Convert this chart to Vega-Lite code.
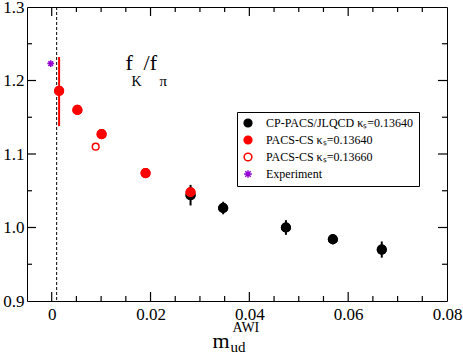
{
  "$schema": "https://vega.github.io/schema/vega-lite/v6.json",
  "width": 420,
  "height": 294,
  "autosize": {"type": "none"},
  "padding": {"left": 27, "top": 7, "right": 16, "bottom": 52},
  "config": {
    "view": {"stroke": "black", "strokeWidth": 1},
    "font": "Liberation Serif",
    "legend": {"labelFont": "Liberation Serif"}
  },
  "datasets": {
    "xmaj": [{"v": 0}, {"v": 0.02}, {"v": 0.04}, {"v": 0.06}],
    "xmin": [{"v": 0.005}, {"v": 0.01}, {"v": 0.015}, {"v": 0.025}, {"v": 0.03}, {"v": 0.035}, {"v": 0.045}, {"v": 0.05}, {"v": 0.055}, {"v": 0.065}, {"v": 0.07}, {"v": 0.075}],
    "ymaj": [{"v": 1.0}, {"v": 1.1}, {"v": 1.2}],
    "ymin": [{"v": 0.95}, {"v": 1.05}, {"v": 1.15}, {"v": 1.25}]
  },
  "data": {
    "values": [
      {"series": "CP-PACS/JLQCD κₛ=0.13640", "x": 0.0281, "y": 1.044, "lo": 1.030, "hi": 1.058},
      {"series": "CP-PACS/JLQCD κₛ=0.13640", "x": 0.0347, "y": 1.0265, "lo": 1.018, "hi": 1.035},
      {"series": "CP-PACS/JLQCD κₛ=0.13640", "x": 0.0474, "y": 1.000, "lo": 0.990, "hi": 1.010},
      {"series": "CP-PACS/JLQCD κₛ=0.13640", "x": 0.0569, "y": 0.984, "lo": 0.977, "hi": 0.991},
      {"series": "CP-PACS/JLQCD κₛ=0.13640", "x": 0.0668, "y": 0.970, "lo": 0.959, "hi": 0.981},
      {"series": "PACS-CS κₛ=0.13640", "x": 0.0015, "y": 1.186, "lo": 1.138, "hi": 1.232},
      {"series": "PACS-CS κₛ=0.13640", "x": 0.0052, "y": 1.160, "lo": 1.157, "hi": 1.163},
      {"series": "PACS-CS κₛ=0.13640", "x": 0.0101, "y": 1.127, "lo": 1.124, "hi": 1.130},
      {"series": "PACS-CS κₛ=0.13640", "x": 0.0190, "y": 1.074, "lo": 1.071, "hi": 1.077},
      {"series": "PACS-CS κₛ=0.13640", "x": 0.0281, "y": 1.048, "lo": 1.044, "hi": 1.052},
      {"series": "PACS-CS κₛ=0.13660", "x": 0.0089, "y": 1.110},
      {"series": "Experiment", "x": -0.0002, "y": 1.223}
    ]
  },
  "layer": [
    {
      "transform": [{"filter": "datum.series == 'CP-PACS/JLQCD κₛ=0.13640' || datum.series == 'PACS-CS κₛ=0.13640'"}],
      "mark": {"type": "point", "opacity": 1, "strokeWidth": 1.5, "size": 75},
      "encoding": {
        "x": {"field": "x", "type": "quantitative", "scale": {"domain": [-0.005, 0.08], "nice": false, "zero": false},
          "axis": {"orient": "bottom", "values": [0, 0.02, 0.04, 0.06, 0.08], "grid": false, "domain": false, "title": null, "ticks": false,
            "labelPadding": 5, "labelFontSize": 17, "labelFont": "Liberation Serif", "labelColor": "black", "labelFlush": false,
            "labelExpr": "datum.value == 0 ? '0' : format(datum.value, '.2f')"}},
        "y": {"field": "y", "type": "quantitative", "scale": {"domain": [0.9, 1.3], "nice": false, "zero": false},
          "axis": {"orient": "left", "values": [0.9, 1.0, 1.1, 1.2, 1.3], "grid": false, "domain": false, "title": null, "ticks": false,
            "labelPadding": 3, "labelFontSize": 17, "labelFont": "Liberation Serif", "labelColor": "black", "labelFlush": false,
            "labelExpr": "format(datum.value, '.1f')"}},
        "shape": {"field": "series", "type": "nominal",
          "scale": {"domain": ["CP-PACS/JLQCD κₛ=0.13640", "PACS-CS κₛ=0.13640", "PACS-CS κₛ=0.13660", "Experiment"], "range": ["circle", "circle", "circle", "M-1,0L1,0M0,-1L0,1M-0.7,-0.7L0.7,0.7M-0.7,0.7L0.7,-0.7"]},
          "legend": {"title": null, "orient": "none", "legendX": 210, "legendY": 105, "strokeColor": "black", "fillColor": "white", "padding": 5, "labelFontSize": 12, "labelFont": "Liberation Serif", "labelColor": "black", "labelLimit": 0, "symbolSize": 60, "symbolStrokeWidth": 1.5, "rowPadding": 3, "labelOffset": 12}},
        "fill": {"field": "series", "type": "nominal", "scale": {"domain": ["CP-PACS/JLQCD κₛ=0.13640", "PACS-CS κₛ=0.13640", "PACS-CS κₛ=0.13660", "Experiment"], "range": ["black", "red", "white", "transparent"]}},
        "stroke": {"field": "series", "type": "nominal", "scale": {"domain": ["CP-PACS/JLQCD κₛ=0.13640", "PACS-CS κₛ=0.13640", "PACS-CS κₛ=0.13660", "Experiment"], "range": ["black", "red", "red", "#9400d3"]}}
      }
    },
    {
      "data": {"name": "xmaj"},
      "mark": {"type": "rule", "color": "black", "strokeWidth": 1.2},
      "encoding": {"x": {"field": "v", "type": "quantitative", "axis": null}, "y": {"datum": 0.9, "type": "quantitative", "axis": null}, "y2": {"datum": 0.9122}}
    },
    {
      "data": {"name": "xmaj"},
      "mark": {"type": "rule", "color": "black", "strokeWidth": 1.2},
      "encoding": {"x": {"field": "v", "type": "quantitative", "axis": null}, "y": {"datum": 1.3, "type": "quantitative", "axis": null}, "y2": {"datum": 1.2878}}
    },
    {
      "data": {"name": "xmin"},
      "mark": {"type": "rule", "color": "black", "strokeWidth": 1.2},
      "encoding": {"x": {"field": "v", "type": "quantitative", "axis": null}, "y": {"datum": 0.9, "type": "quantitative", "axis": null}, "y2": {"datum": 0.9068}}
    },
    {
      "data": {"name": "xmin"},
      "mark": {"type": "rule", "color": "black", "strokeWidth": 1.2},
      "encoding": {"x": {"field": "v", "type": "quantitative", "axis": null}, "y": {"datum": 1.3, "type": "quantitative", "axis": null}, "y2": {"datum": 1.2932}}
    },
    {
      "data": {"name": "ymaj"},
      "mark": {"type": "rule", "color": "black", "strokeWidth": 1.2},
      "encoding": {"y": {"field": "v", "type": "quantitative", "axis": null}, "x": {"datum": -0.005, "type": "quantitative", "axis": null}, "x2": {"datum": -0.00318}}
    },
    {
      "data": {"name": "ymaj"},
      "mark": {"type": "rule", "color": "black", "strokeWidth": 1.2},
      "encoding": {"y": {"field": "v", "type": "quantitative", "axis": null}, "x": {"datum": 0.08, "type": "quantitative", "axis": null}, "x2": {"datum": 0.07818}}
    },
    {
      "data": {"name": "ymin"},
      "mark": {"type": "rule", "color": "black", "strokeWidth": 1.2},
      "encoding": {"y": {"field": "v", "type": "quantitative", "axis": null}, "x": {"datum": -0.005, "type": "quantitative", "axis": null}, "x2": {"datum": -0.00399}}
    },
    {
      "data": {"name": "ymin"},
      "mark": {"type": "rule", "color": "black", "strokeWidth": 1.2},
      "encoding": {"y": {"field": "v", "type": "quantitative", "axis": null}, "x": {"datum": 0.08, "type": "quantitative", "axis": null}, "x2": {"datum": 0.07899}}
    },
    {
      "data": {"values": [{}]},
      "mark": {"type": "rule", "strokeDash": [3, 2], "color": "black", "strokeWidth": 1},
      "encoding": {"x": {"datum": 0.001, "type": "quantitative", "axis": null}}
    },
    {
      "transform": [{"filter": "datum.series == 'PACS-CS κₛ=0.13640'"}],
      "mark": {"type": "rule", "color": "red", "strokeWidth": 2},
      "encoding": {
        "x": {"field": "x", "type": "quantitative", "axis": null},
        "y": {"field": "lo", "type": "quantitative", "axis": null},
        "y2": {"field": "hi"}
      }
    },
    {
      "transform": [{"filter": "datum.series == 'CP-PACS/JLQCD κₛ=0.13640'"}],
      "mark": {"type": "rule", "color": "black", "strokeWidth": 2},
      "encoding": {
        "x": {"field": "x", "type": "quantitative", "axis": null},
        "y": {"field": "lo", "type": "quantitative", "axis": null},
        "y2": {"field": "hi"}
      }
    },
    {
      "transform": [{"filter": "datum.series == 'CP-PACS/JLQCD κₛ=0.13640' || datum.series == 'PACS-CS κₛ=0.13640'"}],
      "mark": {"type": "point", "opacity": 1, "strokeWidth": 1.5, "size": 75},
      "encoding": {
        "x": {"field": "x", "type": "quantitative", "axis": null},
        "y": {"field": "y", "type": "quantitative", "axis": null},
        "shape": {"field": "series", "type": "nominal"},
        "fill": {"field": "series", "type": "nominal"},
        "stroke": {"field": "series", "type": "nominal"}
      }
    },
    {
      "transform": [{"filter": "datum.series == 'PACS-CS κₛ=0.13660' || datum.series == 'Experiment'"}],
      "mark": {"type": "point", "opacity": 1, "strokeWidth": 1.5, "size": 45},
      "encoding": {
        "x": {"field": "x", "type": "quantitative", "axis": null},
        "y": {"field": "y", "type": "quantitative", "axis": null},
        "shape": {"field": "series", "type": "nominal"},
        "fill": {"field": "series", "type": "nominal"},
        "stroke": {"field": "series", "type": "nominal"}
      }
    },
    {
      "data": {"values": [{}]},
      "mark": {"type": "text", "text": "f", "fontSize": 22, "align": "left", "baseline": "alphabetic", "color": "black"},
      "encoding": {"x": {"datum": 0.01495, "type": "quantitative", "axis": null}, "y": {"datum": 1.2143, "type": "quantitative", "axis": null}}
    },
    {
      "data": {"values": [{}]},
      "mark": {"type": "text", "text": "K", "fontSize": 14, "align": "left", "baseline": "alphabetic", "color": "black"},
      "encoding": {"x": {"datum": 0.01616, "type": "quantitative", "axis": null}, "y": {"datum": 1.1925, "type": "quantitative", "axis": null}}
    },
    {
      "data": {"values": [{}]},
      "mark": {"type": "text", "text": "/f", "fontSize": 22, "align": "left", "baseline": "alphabetic", "color": "black"},
      "encoding": {"x": {"datum": 0.01859, "type": "quantitative", "axis": null}, "y": {"datum": 1.2143, "type": "quantitative", "axis": null}}
    },
    {
      "data": {"values": [{}]},
      "mark": {"type": "text", "text": "π", "fontSize": 15, "align": "left", "baseline": "alphabetic", "color": "black"},
      "encoding": {"x": {"datum": 0.02182, "type": "quantitative", "axis": null}, "y": {"datum": 1.1925, "type": "quantitative", "axis": null}}
    },
    {
      "data": {"values": [{}]},
      "mark": {"type": "text", "text": "m", "fontSize": 22, "align": "left", "baseline": "alphabetic", "color": "black"},
      "encoding": {"x": {"datum": 0.03253, "type": "quantitative", "axis": null}, "y": {"datum": 0.8361, "type": "quantitative", "axis": null}}
    },
    {
      "data": {"values": [{}]},
      "mark": {"type": "text", "text": "ud", "fontSize": 15, "align": "left", "baseline": "alphabetic", "color": "black"},
      "encoding": {"x": {"datum": 0.03616, "type": "quantitative", "axis": null}, "y": {"datum": 0.8306, "type": "quantitative", "axis": null}}
    },
    {
      "data": {"values": [{}]},
      "mark": {"type": "text", "text": "AWI", "fontSize": 14, "align": "left", "baseline": "alphabetic", "color": "black"},
      "encoding": {"x": {"datum": 0.03657, "type": "quantitative", "axis": null}, "y": {"datum": 0.8578, "type": "quantitative", "axis": null}}
    }
  ],
  "resolve": {"axis": {"x": "independent", "y": "independent"}}
}
